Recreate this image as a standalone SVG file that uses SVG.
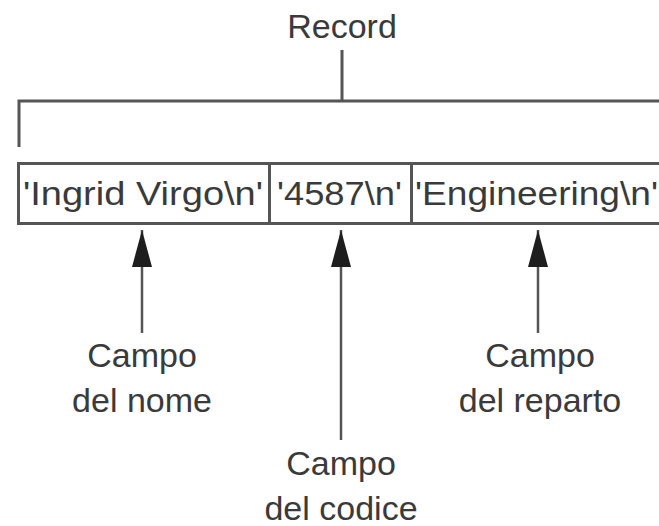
<svg xmlns="http://www.w3.org/2000/svg" width="659" height="526" viewBox="0 0 659 526">
<defs>
<style>
.t{font-family:"Liberation Sans",Arial,sans-serif;font-size:34px;fill:#3a3a3a;text-anchor:middle}
.b{font-family:"Liberation Sans",Arial,sans-serif;font-size:34px;fill:#3a3a3a}
.ln{stroke:#555;stroke-width:3;fill:none}
.ar{stroke:#555;stroke-width:2.5;fill:none}
</style>
<marker id="ah" markerUnits="userSpaceOnUse" markerWidth="38" markerHeight="22" viewBox="0 0 38 22" refX="37" refY="11" orient="auto">
<path d="M37,11 L0,1 L0,21 Z" fill="#1e1e1e"/>
</marker>
</defs>
<rect width="659" height="526" fill="#ffffff"/>
<g id="record">
<text class="t" x="342" y="38">Record</text>
</g>
<g id="connectors">
<path class="ln" d="M342,50 V101 M19,147 V101 H680"/>
<line class="ar" x1="142" y1="333" x2="142" y2="230" marker-end="url(#ah)"/>
<line class="ar" x1="341" y1="440" x2="341" y2="230" marker-end="url(#ah)"/>
<line class="ar" x1="538" y1="333" x2="538" y2="230" marker-end="url(#ah)"/>
</g>
<g id="fields">
<rect class="ln" x="18.5" y="163.5" width="700" height="60"/>
<line class="ln" x1="269.5" y1="163" x2="269.5" y2="224"/>
<line class="ln" x1="411.5" y1="163" x2="411.5" y2="224"/>
<text class="b" x="23" y="205" textLength="240" lengthAdjust="spacingAndGlyphs">'Ingrid Virgo\n'</text>
<text class="b" x="277" y="205" textLength="125" lengthAdjust="spacingAndGlyphs">'4587\n'</text>
<text class="b" x="415" y="205" textLength="243" lengthAdjust="spacingAndGlyphs">'Engineering\n'</text>
</g>
<g id="label-nome">
<text class="t" x="142" y="367">Campo</text>
<text class="t" x="142" y="412">del nome</text>
</g>
<g id="label-codice">
<text class="t" x="341" y="475">Campo</text>
<text class="t" x="341" y="520">del codice</text>
</g>
<g id="label-reparto">
<text class="t" x="540" y="367">Campo</text>
<text class="t" x="540" y="412">del reparto</text>
</g>
</svg>
